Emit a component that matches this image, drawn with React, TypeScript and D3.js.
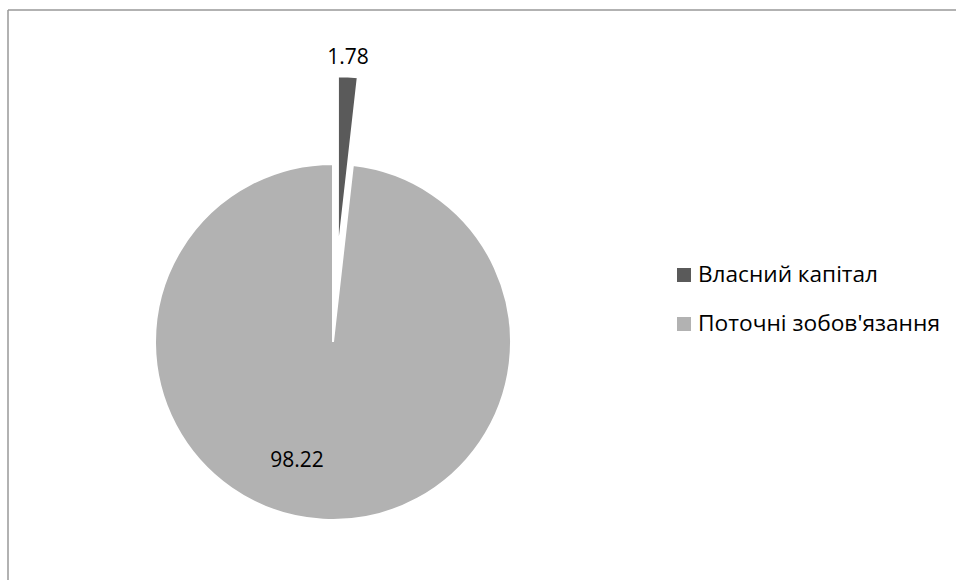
import React from "react";
import * as d3 from "d3";

const categories = ["Власний капітал", "Поточні зобов'язання"];
const values = [1.78, 98.22];
const labels = ["1.78", "98.22"];
const colors = ["#5a5a5a", "#b2b2b2"];

const W = 956;
const H = 580;
const cx = 333;
const cy = 342;
const R = 178;
const explode = [88, 0];

export default function App() {
  const pie = d3.pie<number>().sort(null).value((d) => d)(values);
  const arc = d3.arc<d3.PieArcDatum<number>>().innerRadius(0).outerRadius(R);
  const font = "'Open Sans', sans-serif";
  const labelPos = [
    [348, 64],
    [297, 467],
  ];
  const legendWidths = [180, 242];
  return (
    <svg width={W} height={H} style={{ position: "absolute", left: 0, top: 0 }}>
      <rect x={0} y={0} width={W} height={H} fill="#fff" />
      <line x1={8} y1={10} x2={W} y2={10} stroke="#999" strokeWidth={1.5} />
      <line x1={8} y1={10} x2={8} y2={H} stroke="#999" strokeWidth={1.5} />
      <g transform={`translate(${cx},${cy})`}>
        {pie.map((p, i) => {
          const mid = (p.startAngle + p.endAngle) / 2;
          const dx = Math.sin(mid) * explode[i];
          const dy = -Math.cos(mid) * explode[i];
          return (
            <path
              key={i}
              d={arc(p) || ""}
              transform={`translate(${dx},${dy})`}
              fill={colors[i]}
              stroke="#fff"
              strokeWidth={2}
            />
          );
        })}
      </g>
      {labels.map((t, i) => (
        <text
          key={i}
          x={labelPos[i][0]}
          y={labelPos[i][1]}
          textAnchor="middle"
          fontFamily={font}
          fontSize={21}
          fill="#000"
        >
          {t}
        </text>
      ))}
      {categories.map((c, i) => (
        <g key={c} transform={`translate(677,${268 + i * 49})`}>
          <rect x={0} y={0} width={14} height={14} fill={colors[i]} />
          <text
            x={21}
            y={14}
            fontFamily={font}
            fontSize={21}
            fill="#000"
            textLength={legendWidths[i]}
            lengthAdjust="spacingAndGlyphs"
          >
            {c}
          </text>
        </g>
      ))}
    </svg>
  );
}
